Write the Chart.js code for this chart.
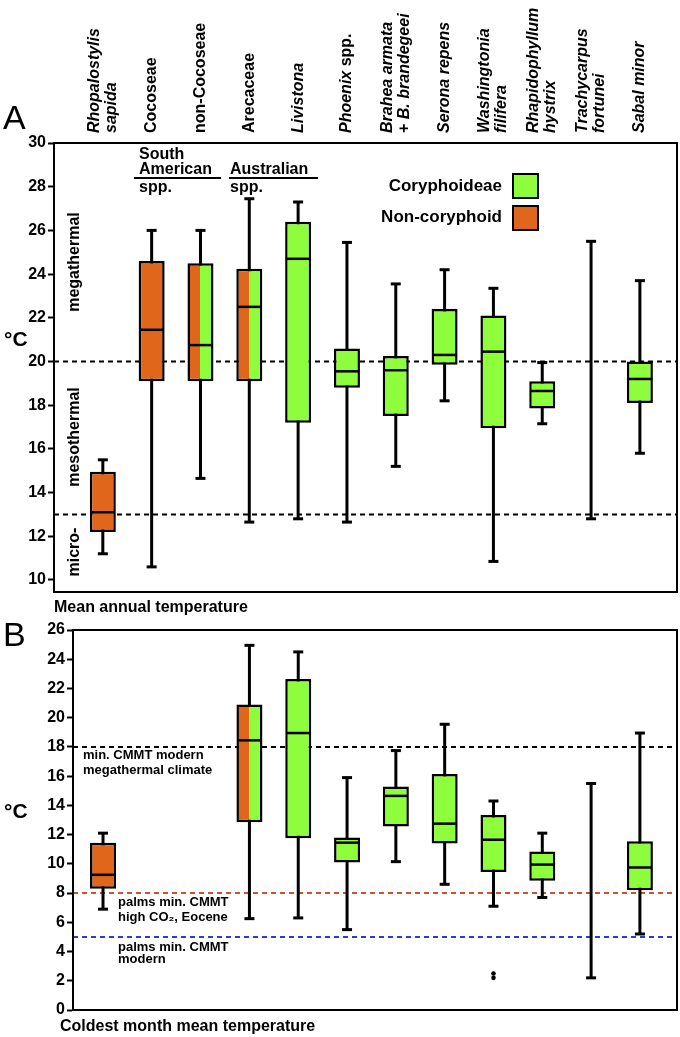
<!DOCTYPE html>
<html>
<head>
<meta charset="utf-8">
<script src="https://cdn.jsdelivr.net/npm/chart.js@4/dist/chart.umd.min.js"></script>
<style>
  body { margin: 0; background: #fff; }
  #wrap { position: relative; width: 680px; height: 1037px; }
  canvas { position: absolute; left: 0; }
  #chartA { top: 0; }
  #chartB { top: 618px; }
</style>
</head>
<body>
<div id="wrap">
  <canvas id="chartA" width="680" height="618"></canvas>
  <canvas id="chartB" width="680" height="419"></canvas>
</div>
<script>
// category names, _text_ = italic
const categoryLines = [
  ['_Rhopalostylis_', '_sapida_'],
  ['Cocoseae'],
  ['non-Cocoseae'],
  ['Arecaceae'],
  ['_Livistona_'],
  ['_Phoenix_ spp.'],
  ['_Brahea armata_', '+ _B. brandegeei_'],
  ['_Serona repens_'],
  ['_Washingtonia_', '_filifera_'],
  ['_Rhapidophyllum_', '_hystrix_'],
  ['_Trachycarpus_', '_fortunei_'],
  ['_Sabal minor_']
];
// non = non-coryphoid, mix = both, cory = Coryphoideae
const boxGroups = ['non', 'non', 'mix', 'mix', 'cory', 'cory', 'cory', 'cory', 'cory', 'cory', 'cory', 'cory'];

// A: mean annual temperature
const annualMin    = [11.2, 10.6, 14.65, 12.65, 12.8, 12.65, 15.2, 18.2, 10.85, 17.15, 12.8, 15.8];
const annualQ1     = [12.2, 19.1, 19.1, 19.1, 17.2, 18.8, 17.5, 19.85, 16.95, 17.85, null, 18.1];
const annualMedian = [13.1, 21.45, 20.75, 22.5, 24.7, 19.55, 19.6, 20.3, 20.45, 18.65, null, 19.2];
const annualQ3     = [14.95, 24.6, 24.5, 24.25, 26.4, 20.6, 20.25, 22.4, 22.1, 19.1, null, 20.0];
const annualMax    = [15.5, 26.0, 26.0, 27.45, 27.3, 25.45, 23.55, 24.2, 23.35, 19.95, 25.5, 23.7];
const annualTicks  = [10, 12, 14, 16, 18, 20, 22, 24, 26, 28, 30];
const annualRefs   = [20, 13];

// B: coldest month mean temperature
const coldMin    = [6.9, null, null, 6.25, 6.3, 5.5, 10.15, 8.6, 7.1, 7.7, 2.2, 5.2];
const coldQ1     = [8.3, null, null, 12.85, 11.75, 10.1, 12.55, 11.4, 9.45, 8.85, null, 8.2];
const coldMedian = [9.25, null, null, 18.45, 18.95, 11.45, 14.65, 12.75, 11.65, 9.95, null, 9.75];
const coldQ3     = [11.45, null, null, 20.9, 22.65, 11.8, 15.3, 16.15, 13.35, 10.85, null, 11.55];
const coldMax    = [12.1, null, null, 24.95, 24.5, 15.9, 17.75, 19.55, 14.3, 12.1, 15.5, 18.95];
const coldOutlierIndex = [8, 8];
const coldOutlierValue = [2.5, 2.2];
const coldTicks  = [0, 2, 4, 6, 8, 10, 12, 14, 16, 18, 20, 22, 24, 26];
const coldRefs   = [18, 8, 5];

const FONT = 'Arial, "Liberation Sans", sans-serif';
const ORANGE = '#E0661C';
const GREEN = '#8EFD3C';
const refColours = { 20: '#000', 13: '#000', 18: '#000', 8: '#D2502E', 5: '#2B3BD6' };

function points(a, b) {
  const out = [];
  a.forEach((v, i) => { if (v !== null && b[i] !== null) out.push({ x: i, y: [v, b[i]] }); });
  return out;
}
function singles(arr) {
  const out = [];
  arr.forEach((v, i) => { if (v !== null) out.push({ x: i, y: v }); });
  return out;
}

function boxColour(ctx) {
  if (ctx.type !== 'data' || !ctx.chart.scales.x) return ORANGE;
  const i = ctx.raw.x;
  const g = boxGroups[i];
  if (g === 'non') return ORANGE;
  if (g === 'cory') return GREEN;
  const x = ctx.chart.scales.x.getPixelForValue(i);
  const grad = ctx.chart.ctx.createLinearGradient(x - 13, 0, x + 13, 0);
  grad.addColorStop(0, ORANGE);
  grad.addColorStop(0.5, ORANGE);
  grad.addColorStop(0.5, GREEN);
  grad.addColorStop(1, GREEN);
  return grad;
}

function rich(ctx, line, x, y, size) {
  let cx = x;
  line.split('_').forEach((p, k) => {
    if (!p) return;
    ctx.font = (k % 2 ? 'italic ' : '') + 'bold ' + size + 'px ' + FONT;
    ctx.fillText(p, cx, y);
    cx += ctx.measureText(p).width;
  });
}

function text(ctx, s, x, y, size, align, weight) {
  ctx.font = (weight || 'bold') + ' ' + size + 'px ' + FONT;
  ctx.textAlign = align || 'left';
  ctx.textBaseline = 'middle';
  ctx.fillText(s, x, y);
}

function vtext(ctx, s, x, y, size) {
  ctx.save();
  ctx.translate(x, y);
  ctx.rotate(-Math.PI / 2);
  text(ctx, s, 0, 0, size, 'center');
  ctx.restore();
}

function makeChart(id, d) {
  const decor = {
    id: 'decor',
    beforeDatasetsDraw(chart) {
      const { ctx, chartArea, scales } = chart;
      ctx.save();
      ctx.lineWidth = 2;
      ctx.setLineDash([5, 4]);
      d.refs.forEach(v => {
        const y = scales.y.getPixelForValue(v);
        ctx.strokeStyle = refColours[v];
        ctx.beginPath();
        ctx.moveTo(chartArea.left, y);
        ctx.lineTo(chartArea.right, y);
        ctx.stroke();
      });
      ctx.restore();
    },
    afterDraw(chart) {
      const { ctx, chartArea } = chart;
      ctx.save();
      ctx.strokeStyle = '#000';
      ctx.lineWidth = 2;
      ctx.strokeRect(chartArea.left, chartArea.top, chartArea.right - chartArea.left, chartArea.bottom - chartArea.top);
      ctx.fillStyle = '#000';
      d.draw(ctx, chart);
      ctx.restore();
    }
  };

  return new Chart(document.getElementById(id), {
    type: 'bar',
    data: {
      datasets: [
        {
          label: 'whisker',
          data: points(d.min, d.max),
          backgroundColor: '#000',
          borderWidth: 0,
          maxBarThickness: 3,
          grouped: false,
          order: 3
        },
        {
          label: 'box',
          data: points(d.q1, d.q3),
          backgroundColor: boxColour,
          borderColor: '#000',
          borderWidth: 2.5,
          borderSkipped: false,
          maxBarThickness: 26,
          grouped: false,
          order: 2
        },
        {
          type: 'scatter',
          label: 'caps',
          data: singles(d.min).concat(singles(d.max)),
          pointStyle: 'line',
          pointRadius: 5,
          borderWidth: 3,
          borderColor: '#000',
          order: 0
        },
        {
          type: 'scatter',
          label: 'median',
          data: singles(d.median),
          pointStyle: 'line',
          pointRadius: 12,
          borderWidth: 2.5,
          borderColor: '#000',
          order: 0
        },
        {
          type: 'scatter',
          label: 'outliers',
          data: d.outIdx.map((i, k) => ({ x: i, y: d.outVal[k] })),
          pointStyle: 'circle',
          pointRadius: 2.3,
          backgroundColor: '#000',
          borderColor: '#000',
          borderWidth: 0,
          order: 0
        }
      ]
    },
    options: {
      responsive: false,
      animation: false,
      events: [],
      layout: { padding: d.padding, autoPadding: false },
      plugins: { legend: { display: false }, tooltip: { enabled: false } },
      scales: {
        x: {
          type: 'linear',
          display: false,
          offset: false,
          min: d.xMin,
          max: 11.76
        },
        y: {
          min: d.yMin,
          max: d.yMax,
          beginAtZero: false,
          afterFit: s => { s.width = d.axisWidth; },
          afterBuildTicks: s => { s.ticks = d.ticks.map(v => ({ value: v })); },
          border: { display: true, color: '#000', width: 2 },
          grid: { drawOnChartArea: false, color: '#000', tickLength: 6, tickWidth: 2 },
          ticks: { color: '#000', padding: 2, font: { family: FONT, size: 16, weight: 'bold' } }
        }
      }
    },
    plugins: [decor]
  });
}

makeChart('chartA', {
  min: annualMin, q1: annualQ1, median: annualMedian, q3: annualQ3, max: annualMax,
  outIdx: [], outVal: [],
  ticks: annualTicks, refs: annualRefs,
  yMin: 9.45, yMax: 30, xMin: -1.0, axisWidth: 54,
  padding: { top: 143, bottom: 26, left: 0, right: 3 },
  draw(ctx, chart) {
    const xs = chart.scales.x;
    categoryLines.forEach((lines, i) => {
      const cx = xs.getPixelForValue(i);
      lines.forEach((line, k) => {
        ctx.save();
        ctx.translate(cx + (k - (lines.length - 1) / 2) * 17, 133);
        ctx.rotate(-Math.PI / 2);
        ctx.textAlign = 'left';
        ctx.textBaseline = 'middle';
        rich(ctx, line, 0, 0, 16);
        ctx.restore();
      });
    });
    text(ctx, 'A', 3, 120, 34, 'left', 'normal');
    text(ctx, '°C', 4, 340, 21);
    vtext(ctx, 'megathermal', 75, 262, 16);
    vtext(ctx, 'mesothermal', 75, 437, 16);
    vtext(ctx, 'micro-', 75, 552, 16);
    text(ctx, 'South', 139, 155, 16);
    text(ctx, 'American', 139, 170, 16);
    text(ctx, 'spp.', 139, 188, 16);
    text(ctx, 'Australian', 230, 170, 16);
    text(ctx, 'spp.', 230, 188, 16);
    ctx.lineWidth = 2;
    ctx.beginPath();
    ctx.moveTo(134, 178); ctx.lineTo(221, 178);
    ctx.moveTo(229, 178); ctx.lineTo(318, 178);
    ctx.stroke();
    text(ctx, 'Coryphoideae', 502, 186, 17, 'right');
    text(ctx, 'Non-coryphoid', 502, 217, 17, 'right');
    ctx.fillStyle = GREEN;
    ctx.fillRect(513, 174, 25, 24);
    ctx.strokeRect(513, 174, 25, 24);
    ctx.fillStyle = ORANGE;
    ctx.fillRect(513, 206, 25, 24);
    ctx.strokeRect(513, 206, 25, 24);
    ctx.fillStyle = '#000';
    text(ctx, 'Mean annual temperature', 54, 608, 16);
  }
});

makeChart('chartB', {
  min: coldMin, q1: coldQ1, median: coldMedian, q3: coldQ3, max: coldMax,
  outIdx: coldOutlierIndex, outVal: coldOutlierValue,
  ticks: coldTicks, refs: coldRefs,
  yMin: 0, yMax: 26, xMin: -0.615, axisWidth: 73,
  padding: { top: 12, bottom: 27, left: 0, right: 3 },
  draw(ctx) {
    text(ctx, 'B', 3, 19, 34, 'left', 'normal');
    text(ctx, '°C', 4, 194, 21);
    text(ctx, 'min. CMMT modern', 83, 137, 13);
    text(ctx, 'megathermal climate', 83, 152, 13);
    text(ctx, 'palms min. CMMT', 118, 284, 13);
    text(ctx, 'high CO\u2082, Eocene', 118, 299, 13);
    text(ctx, 'palms min. CMMT', 118, 329, 13);
    text(ctx, 'modern', 118, 341, 13);
    text(ctx, 'Coldest month mean temperature', 60, 409, 16);
  }
});
</script>
</body>
</html>
